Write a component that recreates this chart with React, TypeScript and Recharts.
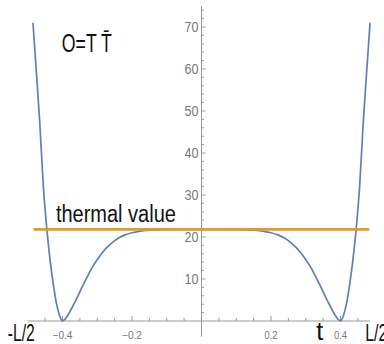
import { LineChart, Line, XAxis, YAxis, ReferenceLine, ReferenceDot } from 'recharts';

// one-point function O = T T-bar along t, symmetric about 0
const tValues = [
  -0.485, -0.475, -0.466, -0.455, -0.445, -0.435, -0.426, -0.417, -0.408, -0.4,
  -0.393, -0.385, -0.375, -0.36, -0.345, -0.33, -0.315, -0.3, -0.285, -0.27,
  -0.255, -0.24, -0.22, -0.2, -0.18, -0.16, -0.13, -0.1, -0.05, 0,
  0.05, 0.1, 0.13, 0.16, 0.18, 0.2, 0.22, 0.24, 0.255, 0.27,
  0.285, 0.3, 0.315, 0.33, 0.345, 0.36, 0.375, 0.385, 0.393, 0.4,
  0.408, 0.417, 0.426, 0.435, 0.445, 0.455, 0.466, 0.475, 0.485,
];
const oValues = [
  71, 59, 48, 32, 21.8, 14, 8.5, 4.0, 1.2, 0,
  0.4, 1.3, 2.8, 5.2, 7.8, 10.3, 12.7, 14.6, 16.3, 17.7,
  18.8, 19.7, 20.5, 21.0, 21.35, 21.55, 21.7, 21.75, 21.8, 21.8,
  21.8, 21.75, 21.7, 21.55, 21.35, 21.0, 20.5, 19.7, 18.8, 17.7,
  16.3, 14.6, 12.7, 10.3, 7.8, 5.2, 2.8, 1.3, 0.4, 0,
  1.2, 4.0, 8.5, 14, 21.8, 32, 48, 59, 71,
];

const thermalValue = 21.8;
const thermalSpan = [-0.483, 0.483];

const yMajorTicks = [10, 20, 30, 40, 50, 60, 70];
const yMinorTicks = [2, 4, 6, 8, 12, 14, 16, 18, 22, 24, 26, 28, 32, 34, 36, 38, 42, 44, 46, 48, 52, 54, 56, 58, 62, 64, 66, 68, 72, 74];
const xMajorTicks = [-0.4, -0.2, 0.2, 0.4];
const xMinorTicks = [-0.45, -0.35, -0.3, -0.25, -0.15, -0.1, -0.05, 0.05, 0.1, 0.15, 0.25, 0.3, 0.35, 0.45];
const xTickLabels = ['\u22120.4', '\u22120.2', '0.2', '0.4'];

const data = tValues.map((t, i) => ({ t, o: oValues[i] }));
const thermalData = thermalSpan.map((t) => ({ t, thermal: thermalValue }));

const FONT = "'Liberation Sans', Arial, sans-serif";
const AXIS = '#999999';
const TICK_TEXT = '#777777';

// text squeezed to a given width, to mimic the condensed font of the original
const textAt = (text: string, style: any, width?: number) => (p: any) => (
  <text
    x={p.cx}
    y={p.cy}
    fontFamily={FONT}
    textLength={width}
    lengthAdjust={width ? 'spacingAndGlyphs' : undefined}
    {...style}
  >
    {text}
  </text>
);

export default function App() {
  return (
    <div style={{ position: 'absolute', left: 0, top: 0, background: '#fff' }}>
      <LineChart
        width={384}
        height={344}
        data={data}
        margin={{ top: 6, right: 8.75, bottom: 7.25, left: 27.75 }}
      >
        <XAxis dataKey="t" type="number" domain={[-0.5, 0.5]} allowDataOverflow hide />
        <YAxis type="number" domain={[-3.75, 75]} allowDataOverflow hide />

        {/* axes crossing at the origin */}
        <ReferenceLine x={0} stroke={AXIS} strokeWidth={1} />
        <ReferenceLine segment={[{ x: -0.5, y: 0 }, { x: 0.485, y: 0 }]} stroke={AXIS} strokeWidth={1} />

        {yMajorTicks.map((v) => (
          <ReferenceLine key={'ym' + v} segment={[{ x: 0, y: v }, { x: 0.0115, y: v }]} stroke={AXIS} />
        ))}
        {yMinorTicks.map((v) => (
          <ReferenceLine key={'yn' + v} segment={[{ x: 0, y: v }, { x: 0.007, y: v }]} stroke={AXIS} />
        ))}
        {xMajorTicks.map((v) => (
          <ReferenceLine key={'xm' + v} segment={[{ x: v, y: 0 }, { x: v, y: 1.2 }]} stroke={AXIS} />
        ))}
        {xMinorTicks.map((v) => (
          <ReferenceLine key={'xn' + v} segment={[{ x: v, y: 0 }, { x: v, y: 0.75 }]} stroke={AXIS} />
        ))}

        {yMajorTicks.map((v) => (
          <ReferenceDot
            key={'yl' + v}
            x={0}
            y={v}
            r={0}
            shape={textAt(String(v), { dx: -3, dy: '0.36em', textAnchor: 'end', fontSize: 15, fill: TICK_TEXT }, 14)}
          />
        ))}
        {xMajorTicks.map((v, i) => (
          <ReferenceDot
            key={'xl' + v}
            x={v}
            y={0}
            r={0}
            shape={textAt(
              xTickLabels[i],
              { dy: 18, textAnchor: 'middle', fontSize: 11, fill: TICK_TEXT },
              v < 0 ? 20 : 13,
            )}
          />
        ))}

        <Line
          dataKey="o"
          type="monotone"
          stroke="#5e81b5"
          strokeWidth={1.7}
          dot={false}
          isAnimationActive={false}
        />
        <Line
          data={thermalData}
          dataKey="thermal"
          type="linear"
          stroke="#e19c24"
          strokeWidth={2.8}
          dot={false}
          isAnimationActive={false}
        />

        <ReferenceDot x={-0.5} y={0} r={0} shape={textAt('-L/2', { dx: -20, dy: 20, textAnchor: 'start', fontSize: 24, fill: '#111' }, 27)} />
        <ReferenceDot x={0.5} y={0} r={0} shape={textAt('L/2', { dx: -10, dy: 20, textAnchor: 'start', fontSize: 24, fill: '#111' }, 22)} />
        <ReferenceDot x={0.34} y={0} r={0} shape={textAt('t', { dy: 19, textAnchor: 'middle', fontSize: 25, fill: '#111' })} />
        <ReferenceDot x={-0.402} y={64} r={0} shape={textAt('O=T T\u0304', { textAnchor: 'start', fontSize: 25, fill: '#111' }, 50)} />
        <ReferenceDot x={-0.419} y={thermalValue} r={0} shape={textAt('thermal value', { dy: -7, textAnchor: 'start', fontSize: 23, fill: '#111' }, 120)} />
      </LineChart>
    </div>
  );
}
